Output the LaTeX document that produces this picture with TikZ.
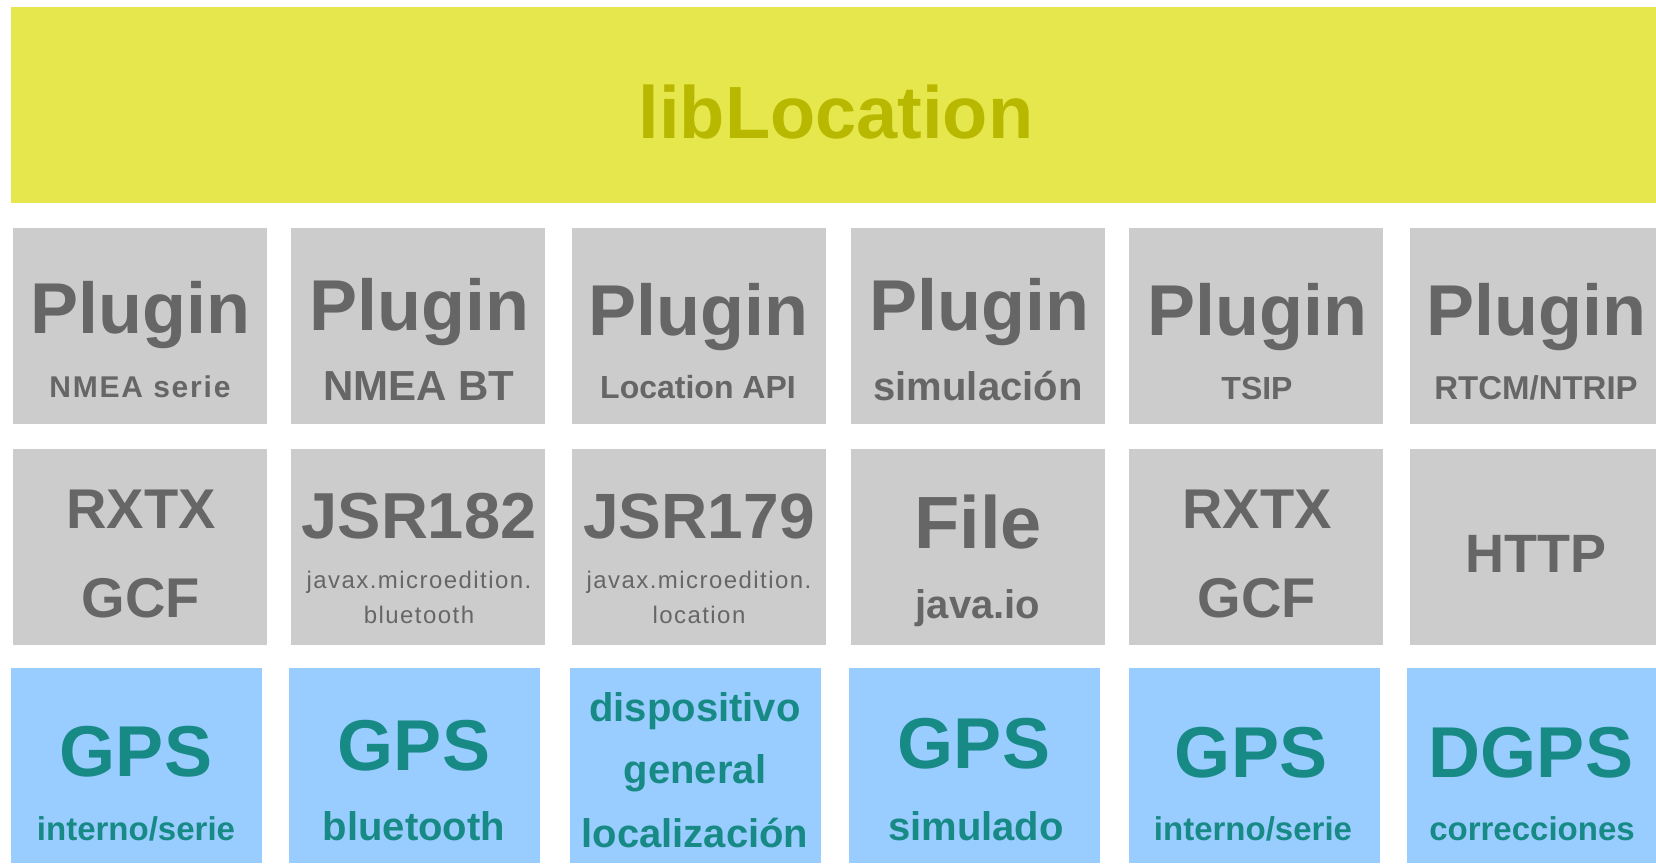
\documentclass[tikz,border=0pt]{standalone}
\usepackage{fontspec}
\setmainfont{Liberation Sans}
\definecolor{banner}{HTML}{E6E64D}
\definecolor{bannertxt}{HTML}{B8B800}
\definecolor{boxgray}{HTML}{CCCCCC}
\definecolor{graytxt}{HTML}{666666}
\definecolor{boxblue}{HTML}{99CCFF}
\definecolor{tealtxt}{HTML}{188A85}
\newcommand\fz[1]{\fontsize{#1}{#1}\selectfont}
\begin{document}
\begin{tikzpicture}[x=0.5pt,y=-0.5pt,
  box/.style={anchor=north west, inner sep=0pt, outer sep=0pt, draw=none},
  gbox/.style={box, fill=boxgray, minimum width=127pt, minimum height=98pt},
  bbox/.style={box, fill=boxblue, minimum width=125.5pt, minimum height=97.5pt},
  txt/.style={anchor=base, inner sep=0pt, outer sep=0pt},
  gt/.style={txt, text=graytxt, font=\bfseries\fz{#1}},
  gr/.style={txt, text=graytxt, font=\fz{#1}\addfontfeature{LetterSpace=6}},
  bt/.style={txt, text=tealtxt, font=\bfseries\fz{#1}}]
\useasboundingbox (0,0) rectangle (1656,863);
\fill[white] (0,0) rectangle (1656,863);
% banner
\node[box, fill=banner, minimum width=822.5pt, minimum height=98pt] (lib) at (11,7) {};
\node[txt, text=bannertxt, font=\bfseries\fz{37}] (libt) at (836,138) {libLocation};
% row 1
\node[gbox] (p1) at (13,228) {};
\node[gbox] (p2) at (291,228) {};
\node[gbox] (p3) at (572,228) {};
\node[gbox] (p4) at (851,228) {};
\node[gbox] (p5) at (1129,228) {};
\node[gbox, minimum width=123pt] (p6) at (1410,228) {};
\node[gt=36] (p1a) at (140,333) {Plugin};
\node[gt=36] (p2a) at (419,330) {Plugin};
\node[gt=36] (p3a) at (698,335) {Plugin};
\node[gt=36] (p4a) at (979,330) {Plugin};
\node[gt=36] (p5a) at (1257,335) {Plugin};
\node[gt=36] (p6a) at (1536,335) {Plugin};
\node[gt=15, font=\bfseries\fz{15}\addfontfeature{LetterSpace=6}] (p1b) at (140,397) {NMEA serie};
\node[gt=21] (p2b) at (419,400) {NMEA BT};
\node[gt=16] (p3b) at (698,398) {Location API};
\node[gt=20] (p4b) at (978,400) {simulación};
\node[gt=16] (p5b) at (1257,399) {TSIP};
\node[gt=16.5] (p6b) at (1536,399) {RTCM/NTRIP};
% row 2
\node[gbox] (l1) at (13,449) {};
\node[gbox] (l2) at (291,449) {};
\node[gbox] (l3) at (572,449) {};
\node[gbox] (l4) at (851,449) {};
\node[gbox] (l5) at (1129,449) {};
\node[gbox, minimum width=123pt] (l6) at (1410,449) {};
\node[gt=28] (l1a) at (141,528) {RXTX};
\node[gt=28] (l1b) at (141,617) {GCF};
\node[gt=32.5] (l2a) at (419,538) {JSR182};
\node[gr=12] (l2b) at (419,588) {javax.microedition.};
\node[gr=12] (l2c) at (419,623) {bluetooth};
\node[gt=32] (l3a) at (699,538) {JSR179};
\node[gr=12] (l3b) at (699,588) {javax.microedition.};
\node[gr=12] (l3c) at (699,623) {location};
\node[gt=37] (l4a) at (978,548) {File};
\node[gt=20] (l4b) at (978,618) {java.io};
\node[gt=28] (l5a) at (1257,528) {RXTX};
\node[gt=28] (l5b) at (1257,617) {GCF};
\node[gt=27] (l6a) at (1536,572) {HTTP};
% row 3
\node[bbox] (d1) at (11,668) {};
\node[bbox] (d2) at (289,668) {};
\node[bbox] (d3) at (570,668) {};
\node[bbox] (d4) at (849,668) {};
\node[bbox] (d5) at (1129,668) {};
\node[bbox, minimum width=124.5pt] (d6) at (1407,668) {};
\node[bt=36] (d1a) at (136,776) {GPS};
\node[bt=16.5] (d1b) at (136,840) {interno/serie};
\node[bt=36] (d2a) at (414,770) {GPS};
\node[bt=20] (d2b) at (414,840) {bluetooth};
\node[bt=20] (d3a) at (695,721) {dispositivo};
\node[bt=20] (d3b) at (695,783) {general};
\node[bt=20] (d3c) at (695,847) {localización};
\node[bt=36] (d4a) at (974,768) {GPS};
\node[bt=20] (d4b) at (976,840) {simulado};
\node[bt=36] (d5a) at (1251,777) {GPS};
\node[bt=16.5] (d5b) at (1253,840) {interno/serie};
\node[bt=36] (d6a) at (1531,777) {DGPS};
\node[bt=16.5] (d6b) at (1532,840) {correcciones};
\end{tikzpicture}
\end{document}
